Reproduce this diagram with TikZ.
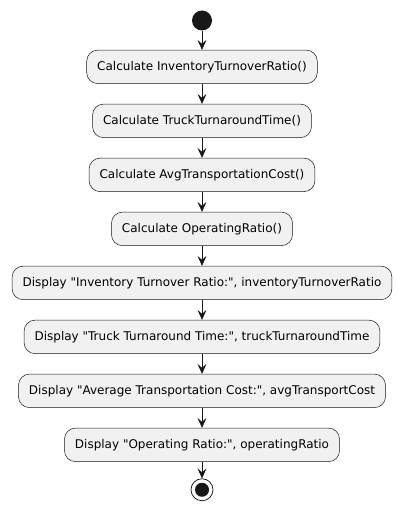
\documentclass[tikz,border=0pt]{standalone}
\usepackage{fontspec}
\setmainfont{DejaVu Sans}
\usetikzlibrary{arrows.meta,positioning}
\definecolor{umlline}{HTML}{181818}
\definecolor{umlfill}{HTML}{F1F1F1}

\begin{document}
\begin{tikzpicture}[->,>={Stealth[length=10pt,width=9pt,inset=4pt]},
                    node distance=20pt,draw=umlline,line width=0.75pt,
                    font=\fontsize{12}{14}\selectfont]
  \tikzstyle{activity}=[draw=umlline,fill=umlfill,rounded corners=11pt,
                        line width=0.5pt,minimum height=33.5pt,inner xsep=10.5pt]
  \tikzstyle{startdot}=[circle,fill=umlline,draw=none,minimum size=20pt,inner sep=0pt]
  \tikzstyle{enddot}=[circle,draw=umlline,line width=0.75pt,fill=white,
                      minimum size=22pt,inner sep=0pt]

  \useasboundingbox (0,0) rectangle (404pt,-513pt);

  \node[startdot] (start) at (202pt,-20.5pt) {};
  \node[activity] (invcalc)  [below=19pt of start]  {Calculate InventoryTurnoverRatio()};
  \node[activity] (truckcalc) [below=of invcalc]    {Calculate TruckTurnaroundTime()};
  \node[activity] (costcalc) [below=of truckcalc]   {Calculate AvgTransportationCost()};
  \node[activity] (opcalc)   [below=of costcalc]    {Calculate OperatingRatio()};
  \node[activity] (invshow)  [below=of opcalc]
       {Display \textquotedbl Inventory Turnover Ratio:\textquotedbl, inventoryTurnoverRatio};
  \node[activity] (truckshow) [below=of invshow]
       {Display \textquotedbl Truck Turnaround Time:\textquotedbl, truckTurnaroundTime};
  \node[activity] (costshow) [below=of truckshow]
       {Display \textquotedbl Average Transportation Cost:\textquotedbl, avgTransportCost};
  \node[activity] (opshow)   [below=of costshow]
       {Display \textquotedbl Operating Ratio:\textquotedbl, operatingRatio};
  \node[enddot]   (stop)     [below=16.5pt of opshow] {};
  \fill[umlline] (stop) circle (7pt);

  \path (start)     edge (invcalc)
        (invcalc)   edge (truckcalc)
        (truckcalc) edge (costcalc)
        (costcalc)  edge (opcalc)
        (opcalc)    edge (invshow)
        (invshow)   edge (truckshow)
        (truckshow) edge (costshow)
        (costshow)  edge (opshow)
        (opshow)    edge (stop);
\end{tikzpicture}
\end{document}
